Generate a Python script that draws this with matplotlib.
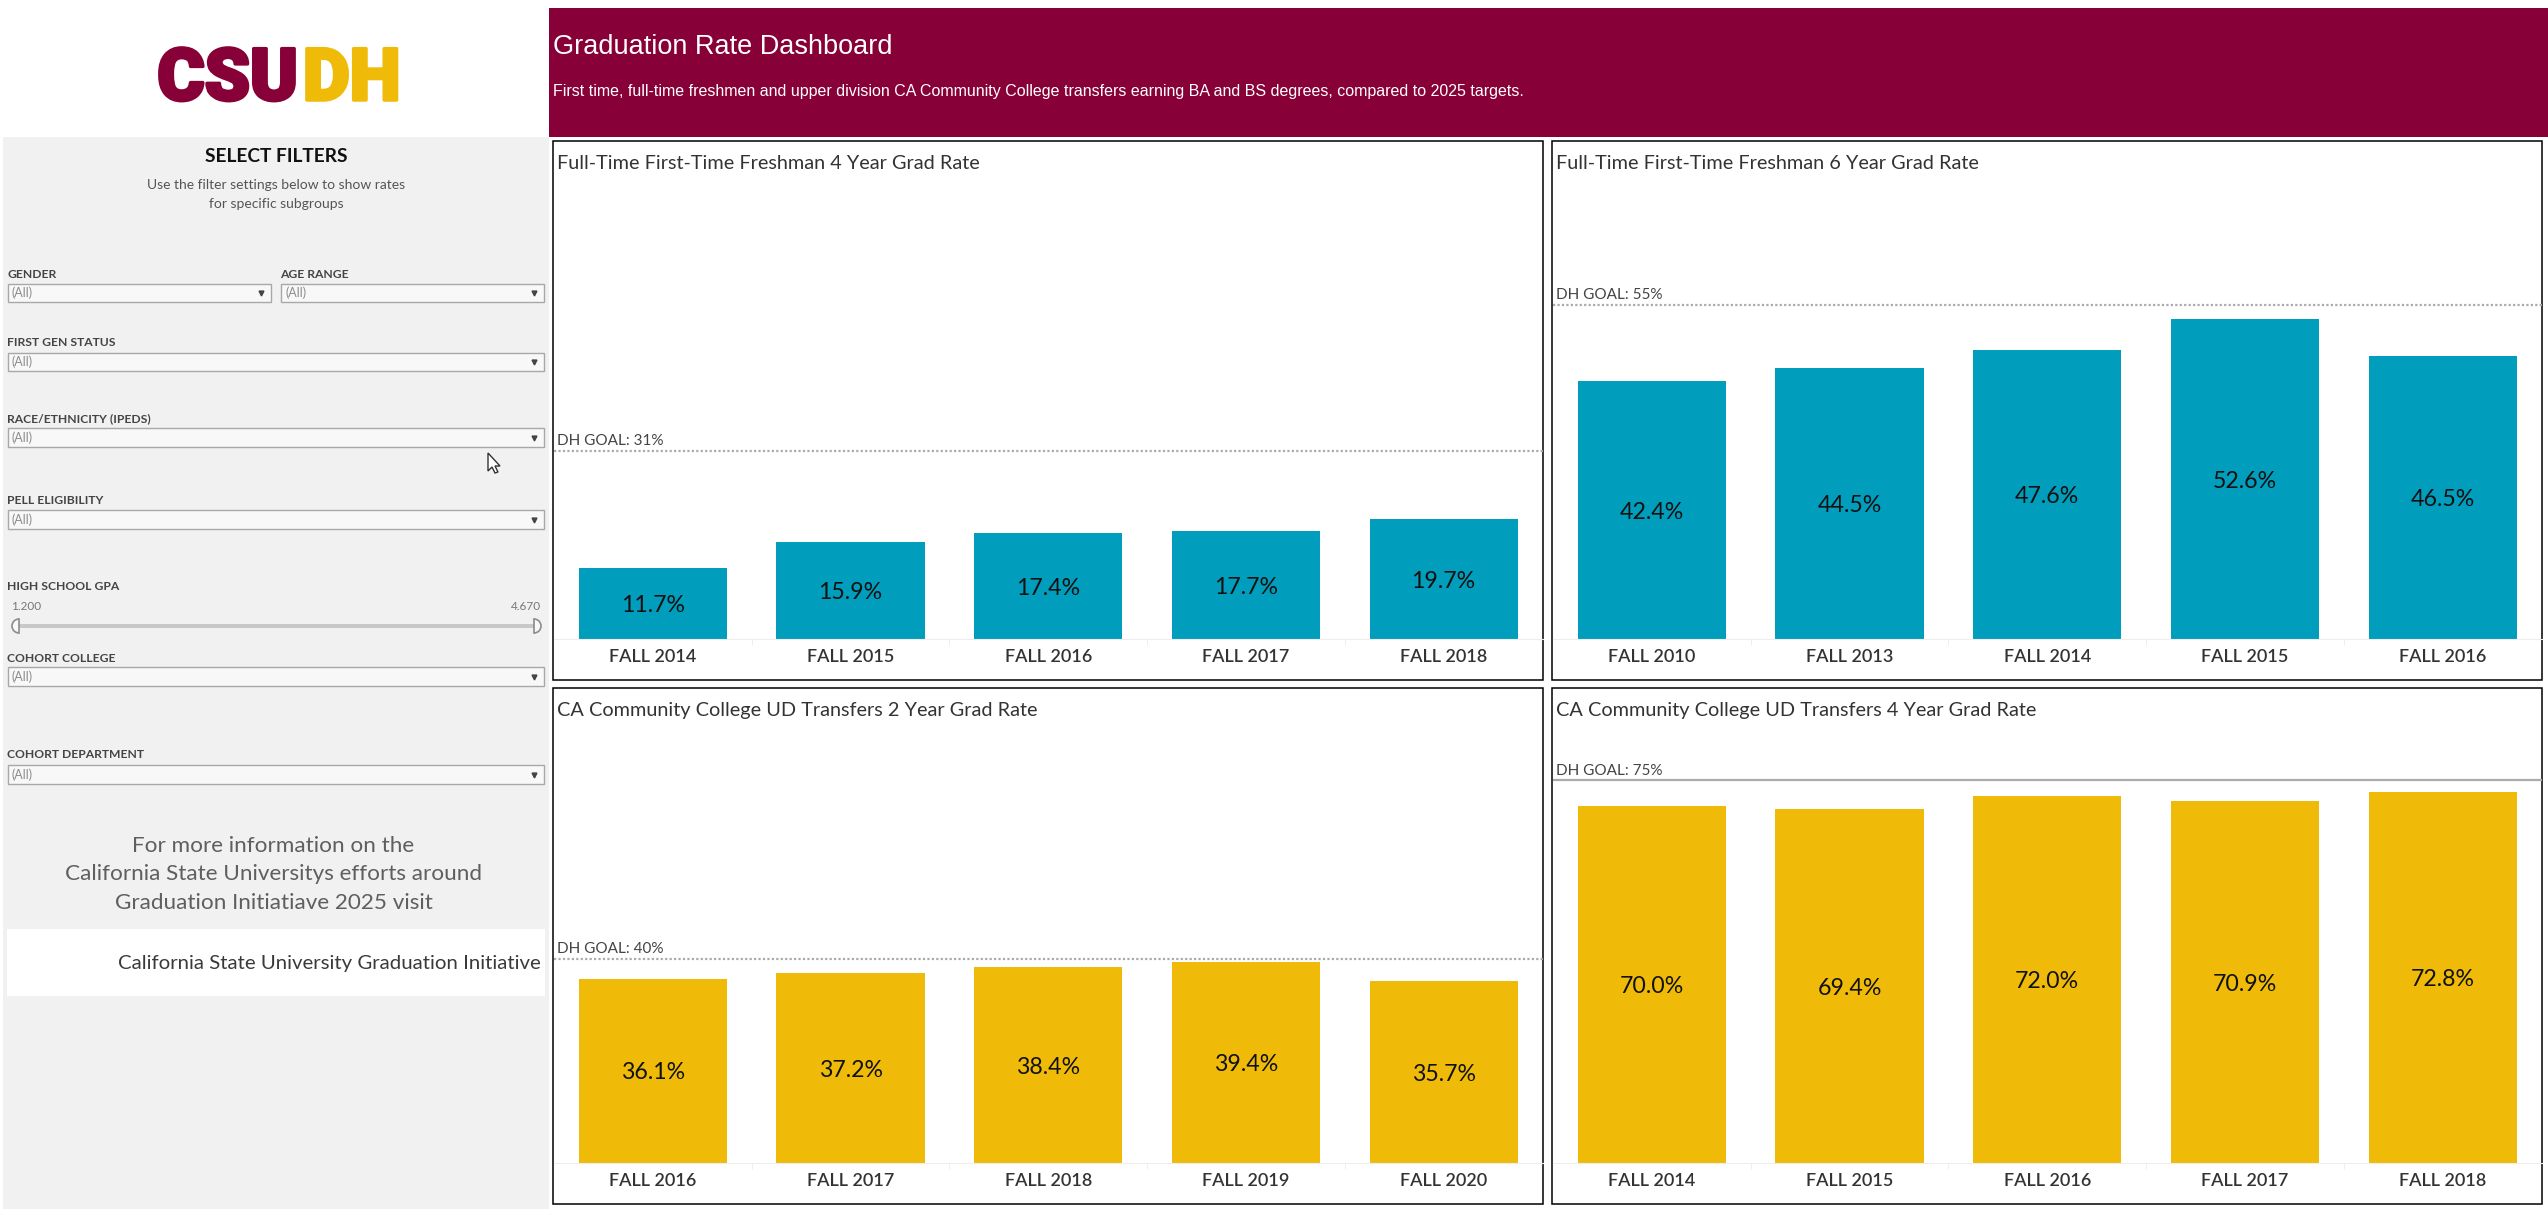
import numpy as np
import matplotlib
matplotlib.use("Agg")
import matplotlib.pyplot as plt
import matplotlib.patheffects as pe
from matplotlib.patches import Rectangle, Polygon, Wedge

W, H = 2548, 1209
MAROON = "#870037"
TEAL = "#009DBC"
GOLD = "#EFBA08"
FONT = "Lato"

#chart values
titles = ["Full-Time First-Time Freshman 4 Year Grad Rate",
          "Full-Time First-Time Freshman 6 Year Grad Rate",
          "CA Community College UD Transfers 2 Year Grad Rate",
          "CA Community College UD Transfers 4 Year Grad Rate"]
terms_fr4 = ["FALL 2014", "FALL 2015", "FALL 2016", "FALL 2017", "FALL 2018"]
terms_fr6 = ["FALL 2010", "FALL 2013", "FALL 2014", "FALL 2015", "FALL 2016"]
terms_tr2 = ["FALL 2016", "FALL 2017", "FALL 2018", "FALL 2019", "FALL 2020"]
terms_tr4 = ["FALL 2014", "FALL 2015", "FALL 2016", "FALL 2017", "FALL 2018"]
rates_fr4 = [11.7, 15.9, 17.4, 17.7, 19.7]
rates_fr6 = [42.4, 44.5, 47.6, 52.6, 46.5]
rates_tr2 = [36.1, 37.2, 38.4, 39.4, 35.7]
rates_tr4 = [70.0, 69.4, 72.0, 70.9, 72.8]
goals = [31, 55, 40, 75]

fig = plt.figure(figsize=(W / 100, H / 100), dpi=100, facecolor="white")

#whole page in pixels for the dashboard furniture
bg = fig.add_axes([0, 0, 1, 1])
bg.set_xlim(0, W)
bg.set_ylim(H, 0)
bg.axis("off")

bg.add_patch(Rectangle((3, 137), 546, H - 137, fc="#F1F1F1", ec="none"))
bg.add_patch(Rectangle((549, 8), W - 549, 129, fc=MAROON, ec="none"))

bg.text(553, 47.5, "Graduation Rate Dashboard", color="white", fontsize=19.5,
        family="Liberation Sans", va="center")
bg.text(553, 91.5, "First time, full-time freshmen and upper division CA Community College transfers earning BA and BS degrees, compared to 2025 targets.",
        color="white", fontsize=11.5, family="Liberation Sans", va="center")

#logo
bg.text(298, 73, "CSU", color=MAROON, fontsize=52, family="Roboto", weight="black",
        ha="right", va="center_baseline",
        path_effects=[pe.withStroke(linewidth=2.5, foreground=MAROON)])
bg.text(303, 73, "DH", color=GOLD, fontsize=52, family="Roboto", weight="black",
        ha="left", va="center_baseline",
        path_effects=[pe.withStroke(linewidth=2.5, foreground=GOLD)])

#filters
bg.text(276, 156, "SELECT FILTERS", fontsize=13.8, family=FONT, weight="bold",
        color="#111111", ha="center", va="center")
bg.text(276, 185, "Use the filter settings below to show rates", fontsize=10,
        family=FONT, color="#555555", ha="center", va="center")
bg.text(276, 204, "for specific subgroups", fontsize=10, family=FONT,
        color="#555555", ha="center", va="center")


def dropdown(label, x0, x1, label_y, y0, y1):
    bg.text(x0 - 1, label_y, label, fontsize=8.7, family=FONT, weight="bold",
            color="#444444", va="center")
    bg.add_patch(Rectangle((x0, y0), x1 - x0, y1 - y0, fc="#F8F8F8", ec="#A8A8A8", lw=1))
    bg.text(x0 + 4, (y0 + y1) / 2, "(All)", fontsize=9, family=FONT, color="#8C8C8C", va="center")
    bg.plot([x1 - 10], [(y0 + y1) / 2], marker="v", ms=3.5, color="#444444")


dropdown("GENDER", 8, 271, 274, 284, 302)
dropdown("AGE RANGE", 281, 544, 274, 284, 302)
dropdown("FIRST GEN STATUS", 8, 544, 343, 353, 371)
dropdown("RACE/ETHNICITY (IPEDS)", 8, 544, 419, 428, 447)
dropdown("PELL ELIGIBILITY", 8, 544, 501, 510, 529)
dropdown("COHORT COLLEGE", 8, 544, 658, 667, 686)
dropdown("COHORT DEPARTMENT", 8, 544, 755, 765, 784)

#gpa slider
bg.text(7, 586, "HIGH SCHOOL GPA", fontsize=8.7, family=FONT, weight="bold",
        color="#444444", va="center")
bg.text(11.5, 606, "1.200", fontsize=8.5, family=FONT, color="#777777", va="center")
bg.text(541, 606, "4.670", fontsize=8.5, family=FONT, color="#777777", ha="right", va="center")
bg.add_patch(Rectangle((18, 624), 516, 4, fc="#C8C8C8", ec="none"))
bg.add_patch(Wedge((19, 626), 7, 90, 270, fc="#F8F8F8", ec="#8C8C8C", lw=1.2, zorder=3))
bg.add_patch(Wedge((534, 626), 7, -90, 90, fc="#F8F8F8", ec="#8C8C8C", lw=1.2, zorder=3))

#mouse pointer
cursor = np.array([[0, 0], [0, 18], [4, 14], [7, 20], [10, 19], [7, 13], [12, 13]])
bg.add_patch(Polygon(cursor + [488, 453], closed=True, fc="white", ec="#333333", lw=1, zorder=4))

#info text + link
info_lines = ["For more information on the",
              "California State Universitys efforts around",
              "Graduation Initiatiave 2025 visit"]
for line, y in zip(info_lines, [846, 874, 903]):
    bg.text(273.5, y, line, fontsize=16.2, family=FONT, color="#5F5F5F", ha="center", va="center")
bg.add_patch(Rectangle((7, 929), 538, 67, fc="white", ec="none"))
bg.text(541, 964, "California State University Graduation Initiative", fontsize=14.7,
        family=FONT, color="#3A3A3A", ha="right", va="center")

#panels: left, right, top, bottom of box, baseline
boxes = [(553, 1543, 141, 680, 639), (1552, 2542, 141, 680, 639),
         (553, 1543, 688, 1204, 1163), (1552, 2542, 688, 1204, 1163)]
ymaxes = [81.9, 81.9, 93.1, 93.1]
colors = [TEAL, TEAL, GOLD, GOLD]
terms = [terms_fr4, terms_fr6, terms_tr2, terms_tr4]
rates = [rates_fr4, rates_fr6, rates_tr2, rates_tr4]
goal_ls = [(0, (1, 1)), (0, (1, 1)), (0, (1, 1)), "-"]

for i in range(4):
    x0, x1, top, bottom, base = boxes[i]
    bg.add_patch(Rectangle((x0, top), x1 - x0, bottom - top, fc="white", ec="black", lw=1.1))

    ax = fig.add_axes([(x0 + 1) / W, 1 - base / H, (x1 - x0 - 1.5) / W, (base - top) / H])
    ax.patch.set_alpha(0)
    x = np.arange(5)
    ax.bar(x, rates[i], width=0.75, color=colors[i])
    ax.axhline(goals[i], color="#ABABAB", lw=1.6, ls=goal_ls[i], zorder=1)
    ax.set_xlim(-0.5, 4.5)
    ax.set_ylim(0, ymaxes[i])

    for xi, v in zip(x, rates[i]):
        ax.annotate("%.1f%%" % v, (xi, v / 2), xytext=(0, -1.5), textcoords="offset points",
                    fontsize=16.7, family=FONT, color="#111111", ha="center", va="center")
    ax.annotate("DH GOAL: %d%%" % goals[i], (0, goals[i]), xycoords=ax.get_yaxis_transform(),
                xytext=(2.5, 2), textcoords="offset points", fontsize=11, family=FONT,
                color="#444444", va="bottom")
    ax.annotate(titles[i], (0, 1), xycoords="axes fraction", xytext=(2.5, -16),
                textcoords="offset points", fontsize=14.3, family=FONT, color="#333333",
                va="center")

    ax.set_xticks(x)
    ax.set_xticklabels(terms[i], fontsize=13, family=FONT, weight="semibold", color="#333333")
    ax.tick_params(axis="x", which="major", length=0, pad=7)
    ax.set_xticks(x[:-1] + 0.5, minor=True)
    ax.tick_params(axis="x", which="minor", length=4, color="#EDEDED")
    ax.set_yticks([])
    for s in ["top", "left", "right"]:
        ax.spines[s].set_visible(False)
    ax.spines["bottom"].set_color("#EDEDED")

fig.savefig("out.png", dpi=100)
